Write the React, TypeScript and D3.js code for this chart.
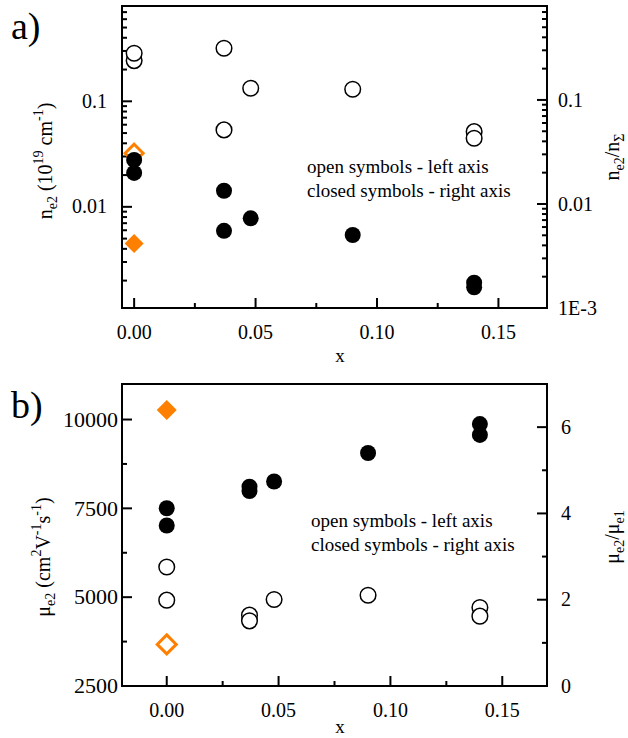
import React from 'react';
import * as d3 from 'd3';

// Sample compositions (x) shared by both panels
const xSamples = [0, 0, 0.037, 0.037, 0.048, 0.09, 0.14, 0.14];
const xReference = [0];

// a) carrier density of the second electron band
const nE2 = [0.243, 0.285, 0.318, 0.0536, 0.133, 0.13, 0.0516, 0.0447];
const nE2Ratio = [0.0265, 0.0199, 0.0134, 0.00552, 0.00728, 0.00503, 0.00175, 0.00158];
const nRefOpen = [0.0322];
const nRefClosed = [0.00418];

// b) mobility of the second electron band
const muE2 = [5851, 4916, 4494, 4334, 4935, 5056, 4711, 4466];
const muE2Ratio = [4.12, 3.72, 4.62, 4.52, 4.74, 5.4, 6.07, 5.82];
const muRefOpen = [3671];
const muRefClosed = [6.4];

// Tick values
const xMajor = [0, 0.05, 0.1, 0.15];
const xMinor = [0.025, 0.075, 0.125];
const xTickLabels = ['0.00', '0.05', '0.10', '0.15'];
const nLeftLabeled = [0.01, 0.1];
const nLeftLabels = ['0.01', '0.1'];
const nRightLabeled = [0.001, 0.01, 0.1];
const nRightLabels = ['1E-3', '0.01', '0.1'];
const muMajor = [2500, 5000, 7500, 10000];
const muMinor = [3750, 6250, 8750];
const ratioMajor = [0, 2, 4, 6];
const ratioMinor = [1, 3, 5];

const ORANGE = '#ff8000';
const TICK_FS = 20;
const SERIF = { fontFamily: 'Liberation Serif' };

const L = 122;
const R = 547;

const logTicks = (domain: number[]) => {
  const [lo, hi] = domain;
  const out: number[] = [];
  for (let d = Math.floor(Math.log10(lo)); d <= Math.ceil(Math.log10(hi)); d++) {
    for (let k = 1; k <= 9; k++) {
      const v = k * Math.pow(10, d);
      if (v >= lo * 0.9999 && v <= hi * 1.0001) out.push(v);
    }
  }
  return out;
};

const isDecade = (v: number) => Math.abs(Math.log10(v) - Math.round(Math.log10(v))) < 1e-6;

const diamond = (cx: number, cy: number, s: number) =>
  `M${cx},${cy - s}L${cx + s},${cy}L${cx},${cy + s}L${cx - s},${cy}Z`;

function Frame({ top, bottom }: { top: number; bottom: number }) {
  return (
    <rect x={L} y={top} width={R - L} height={bottom - top} fill="none" stroke="#000" strokeWidth={2} />
  );
}

function BottomAxis({ x, bottom, labelY }: { x: d3.ScaleLinear<number, number>; bottom: number; labelY: number }) {
  return (
    <g>
      {xMajor.map((v) => (
        <line key={'M' + v} x1={x(v)} x2={x(v)} y1={bottom} y2={bottom - 10} stroke="#000" strokeWidth={2} />
      ))}
      {xMinor.map((v) => (
        <line key={'m' + v} x1={x(v)} x2={x(v)} y1={bottom} y2={bottom - 5} stroke="#000" strokeWidth={2} />
      ))}
      {xMajor.map((v, i) => (
        <text key={'t' + v} x={x(v)} y={labelY} textAnchor="middle" fontSize={TICK_FS} style={SERIF}>
          {xTickLabels[i]}
        </text>
      ))}
    </g>
  );
}

export default function App() {
  // ----- panel a -----
  const aTop = 6;
  const aBottom = 308;
  const xa = d3.scaleLinear().domain([-0.005, 0.17]).range([L, R]);
  const yaL = d3.scaleLog().domain([0.0011, 0.8]).range([aBottom, aTop]);
  const yaR = d3.scaleLog().domain([0.001, 0.8]).range([aBottom, aTop]);

  // ----- panel b -----
  const bTop = 384;
  const bBottom = 686;
  const xb = d3.scaleLinear().domain([-0.02, 0.17]).range([L, R]);
  const ybL = d3.scaleLinear().domain([2500, 11000]).range([bBottom, bTop]);
  const ybR = d3.scaleLinear().domain([0, 7]).range([bBottom, bTop]);

  const lTicksA = logTicks(yaL.domain());
  const rTicksA = logTicks(yaR.domain());

  return (
    <svg width={628} height={738} style={{ position: 'absolute', left: 0, top: 0, background: '#fff' }}>
      <rect width={628} height={738} fill="#fff" />

      {/* ================= a) ================= */}
      <text x={11} y={39} fontSize={38} style={SERIF}>a)</text>

      {lTicksA.map((v) => (
        <line key={'la' + v} x1={L} x2={L + (isDecade(v) ? 10 : 5)} y1={yaL(v)} y2={yaL(v)} stroke="#000" strokeWidth={2} />
      ))}
      {rTicksA.map((v) => (
        <line key={'ra' + v} x1={R} x2={R - (isDecade(v) ? 10 : 5)} y1={yaR(v)} y2={yaR(v)} stroke="#000" strokeWidth={2} />
      ))}
      {nLeftLabeled.map((v, i) => (
        <text key={'lla' + v} x={107} y={yaL(v)} dy="0.33em" textAnchor="end" fontSize={TICK_FS} style={SERIF}>
          {nLeftLabels[i]}
        </text>
      ))}
      {nRightLabeled.map((v, i) => (
        <text key={'rla' + v} x={558} y={yaR(v)} dy="0.33em" textAnchor="start" fontSize={TICK_FS} style={SERIF}>
          {nRightLabels[i]}
        </text>
      ))}
      <BottomAxis x={xa} bottom={aBottom} labelY={339} />

      {/* reference sample (diamonds) */}
      {xReference.map((xv, i) => (
        <g key={'da' + i}>
          <path d={diamond(xa(xv), yaL(nRefOpen[i]), 9)} fill="#fff" stroke={ORANGE} strokeWidth={3} />
          <path d={diamond(xa(xv), yaR(nRefClosed[i]), 9.5)} fill={ORANGE} stroke="none" />
        </g>
      ))}
      {xSamples.map((xv, i) => (
        <circle key={'ca' + i} cx={xa(xv)} cy={yaR(nE2Ratio[i])} r={8} fill="#000" />
      ))}
      {xSamples.map((xv, i) => (
        <circle key={'oa' + i} cx={xa(xv)} cy={yaL(nE2[i])} r={7.8} fill="#fff" stroke="#000" strokeWidth={1.5} />
      ))}

      <text x={307} y={173} fontSize={19} style={SERIF}>open symbols - left axis</text>
      <text x={307} y={197} fontSize={19} style={SERIF}>closed symbols - right axis</text>

      <text x={340} y={362} textAnchor="middle" fontSize={19} style={SERIF}>x</text>

      <text transform="translate(52,161) rotate(-90)" textAnchor="middle" fontSize={20} style={SERIF}>
        <tspan>n</tspan>
        <tspan fontSize={14} dy={5}>e2</tspan>
        <tspan dy={-5}> (10</tspan>
        <tspan fontSize={14} dy={-9}>19</tspan>
        <tspan dy={9}> cm</tspan>
        <tspan fontSize={14} dy={-9}>-1</tspan>
        <tspan dy={9}>)</tspan>
      </text>
      <text transform="translate(619,157) rotate(-90)" textAnchor="middle" fontSize={20} style={SERIF}>
        <tspan>n</tspan>
        <tspan fontSize={14} dy={5}>e2</tspan>
        <tspan dy={-5}>/n</tspan>
        <tspan fontSize={14} dy={5}>Σ</tspan>
      </text>

      <Frame top={aTop} bottom={aBottom} />

      {/* ================= b) ================= */}
      <text x={11} y={418} fontSize={38} style={SERIF}>b)</text>

      {muMajor.map((v) => (
        <line key={'lbM' + v} x1={L} x2={L + 10} y1={ybL(v)} y2={ybL(v)} stroke="#000" strokeWidth={2} />
      ))}
      {muMinor.map((v) => (
        <line key={'lbm' + v} x1={L} x2={L + 5} y1={ybL(v)} y2={ybL(v)} stroke="#000" strokeWidth={2} />
      ))}
      {ratioMajor.map((v) => (
        <line key={'rbM' + v} x1={R} x2={R - 10} y1={ybR(v)} y2={ybR(v)} stroke="#000" strokeWidth={2} />
      ))}
      {ratioMinor.map((v) => (
        <line key={'rbm' + v} x1={R} x2={R - 5} y1={ybR(v)} y2={ybR(v)} stroke="#000" strokeWidth={2} />
      ))}
      {muMajor.map((v) => (
        <text key={'lbl' + v} x={118} y={ybL(v)} dy="0.33em" textAnchor="end" fontSize={22} style={SERIF}>
          {String(v)}
        </text>
      ))}
      {ratioMajor.map((v) => (
        <text key={'rbl' + v} x={561} y={ybR(v)} dy="0.33em" textAnchor="start" fontSize={TICK_FS} style={SERIF}>
          {String(v)}
        </text>
      ))}
      <BottomAxis x={xb} bottom={bBottom} labelY={717} />

      {xReference.map((xv, i) => (
        <g key={'db' + i}>
          <path d={diamond(xb(xv), ybL(muRefOpen[i]), 9.5)} fill="#fff" stroke={ORANGE} strokeWidth={3} />
          <path d={diamond(xb(xv), ybR(muRefClosed[i]), 10)} fill={ORANGE} stroke="none" />
        </g>
      ))}
      {xSamples.map((xv, i) => (
        <circle key={'cb' + i} cx={xb(xv)} cy={ybR(muE2Ratio[i])} r={8} fill="#000" />
      ))}
      {xSamples.map((xv, i) => (
        <circle key={'ob' + i} cx={xb(xv)} cy={ybL(muE2[i])} r={7.8} fill="#fff" stroke="#000" strokeWidth={1.5} />
      ))}

      <text x={311} y={527} fontSize={19} style={SERIF}>open symbols - left axis</text>
      <text x={311} y={551} fontSize={19} style={SERIF}>closed symbols - right axis</text>

      <text x={340} y={733} textAnchor="middle" fontSize={19} style={SERIF}>x</text>

      <text transform="translate(50,557) rotate(-90)" textAnchor="middle" fontSize={20} style={SERIF}>
        <tspan>μ</tspan>
        <tspan fontSize={14} dy={5}>e2</tspan>
        <tspan dy={-5}> (cm</tspan>
        <tspan fontSize={14} dy={-9}>2</tspan>
        <tspan dy={9}>V</tspan>
        <tspan fontSize={14} dy={-9}>-1</tspan>
        <tspan dy={9}>s</tspan>
        <tspan fontSize={14} dy={-9}>-1</tspan>
        <tspan dy={9}>)</tspan>
      </text>
      <text transform="translate(619,537) rotate(-90)" textAnchor="middle" fontSize={20} style={SERIF}>
        <tspan>μ</tspan>
        <tspan fontSize={14} dy={5}>e2</tspan>
        <tspan dy={-5}>/μ</tspan>
        <tspan fontSize={14} dy={5}>e1</tspan>
      </text>

      <Frame top={bTop} bottom={bBottom} />
    </svg>
  );
}
